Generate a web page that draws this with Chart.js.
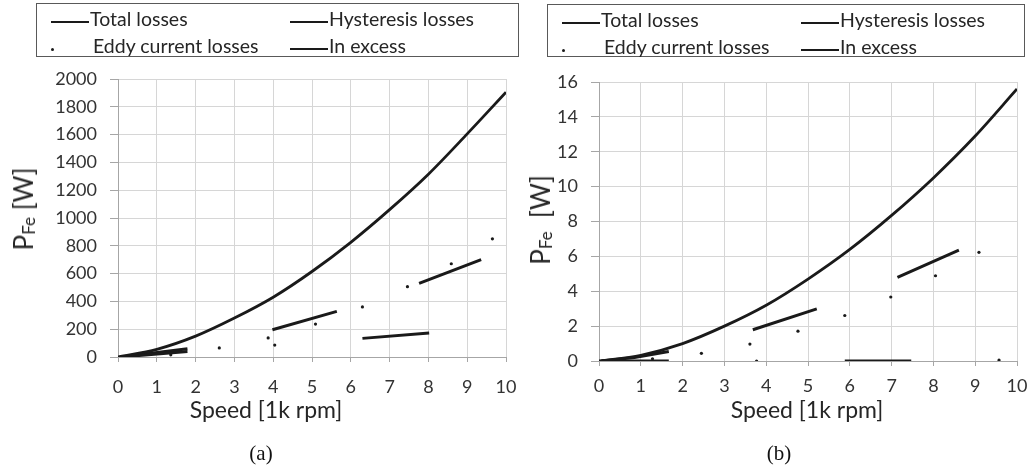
<!DOCTYPE html>
<html>
<head>
<meta charset="utf-8">
<script src="https://cdn.jsdelivr.net/npm/chart.js@4.4.1/dist/chart.umd.min.js"></script>
<style>
  body { margin: 0; background: #fff; width: 1030px; height: 468px; position: relative; overflow: hidden; font-family: Lato, sans-serif; color: #262626; }
  canvas { position: absolute; top: 0; }
  .legend { position: absolute; border: 1px solid #595959; box-sizing: border-box; }
  .item { position: absolute; font-size: 19.5px; line-height: 18px; white-space: nowrap; }
  .sample { position: absolute; height: 2px; width: 38px; background: #1a1a1a; }
  .dot { position: absolute; width: 3px; height: 3px; border-radius: 50%; background: #1a1a1a; }
  .ytitle { position: absolute; transform: translate(-50%, -50%) rotate(-90deg); font-size: 26px; white-space: nowrap; color: #262626; }
  .ytitle sub { font-size: 17px; vertical-align: baseline; position: relative; top: 2px; }
  .xtitle { position: absolute; transform: translateX(-50%); font-size: 23px; white-space: nowrap; color: #262626; }
  .caption { position: absolute; transform: translateX(-50%); font-family: "Liberation Serif", serif; font-size: 21px; color: #111; }
</style>
</head>
<body>
<canvas id="chartB" width="515" height="400" style="left:515px"></canvas>
<canvas id="chartA" width="530" height="400" style="left:0px"></canvas>
<script>
// legend labels
const seriesNames = ['Total losses', 'Hysteresis losses', 'Eddy current losses', 'In excess'];

// panel (a) - total losses curve read at each 1k rpm
const speedTotal = [0, 1, 2, 3, 4, 5, 6, 7, 8, 9, 10];
const totalA = [0, 55, 150, 280, 430, 615, 825, 1060, 1315, 1605, 1905];
// visible dashes (null = gap)
const hystSpeedA = [0.07, 1.79, 4.0, 6.30, 8.02];
const hystA = [0, 39, null, 134, 173];
const excessSpeedA = [0.07, 1.79, 2.9, 3.98, 5.64, 6.7, 7.76, 9.36];
const excessA = [0, 60, null, 196, 328, null, 530, 700];
// dotted eddy current losses
const eddySpeedA = [1.36, 2.61, 3.87, 4.04, 5.09, 6.30, 7.46, 8.59, 9.65];
const eddyA = [16, 65, 137, 86, 237, 360, 506, 671, 850];

// panel (b)
const totalB = [0, 0.33, 1.0, 2.0, 3.2, 4.7, 6.4, 8.35, 10.5, 12.9, 15.6];
const hystSpeedB = [0.06, 1.67, 3.8, 5.88, 7.47];
const hystB = [0, 0, null, 0, 0];
const excessSpeedB = [0.06, 0.85, 1.67, 2.7, 3.68, 5.21, 6.2, 7.14, 8.61];
const excessB = [0, 0.2, 0.55, null, 1.79, 2.99, null, 4.80, 6.36];
const eddySpeedB = [1.28, 2.45, 3.61, 3.77, 4.76, 5.88, 6.98, 8.05, 9.09, 9.57];
const eddyB = [0.13, 0.44, 0.97, 0, 1.71, 2.61, 3.67, 4.89, 6.23, 0.05];

const xTicks = [0, 1, 2, 3, 4, 5, 6, 7, 8, 9, 10];

function toPoints(xs, ys) {
    return xs.map((x, i) => ({ x: x, y: ys[i] }));
}

function makeChart(id, total, hystX, hyst, excessX, excess, eddyX, eddy, opt) {
    const ink = '#1a1a1a';
    return new Chart(document.getElementById(id), {
        type: 'line',
        data: {
            datasets: [
                { label: seriesNames[0], data: toPoints(speedTotal, total), borderColor: ink, borderWidth: 2.8, pointRadius: 0, cubicInterpolationMode: 'monotone' },
                { label: seriesNames[1], data: toPoints(hystX, hyst), borderColor: ink, borderWidth: 3, pointRadius: 0, spanGaps: false },
                { label: seriesNames[2], data: toPoints(eddyX, eddy), showLine: false, pointRadius: 1.6, pointBackgroundColor: ink, pointBorderWidth: 0 },
                { label: seriesNames[3], data: toPoints(excessX, excess), borderColor: ink, borderWidth: 3, pointRadius: 0, spanGaps: false }
            ]
        },
        options: {
            responsive: false,
            devicePixelRatio: 1,
            animation: false,
            layout: { padding: { top: opt.top, right: opt.right, left: 0, bottom: 0 } },
            plugins: { legend: { display: false }, tooltip: { enabled: false } },
            scales: {
                x: {
                    type: 'linear', min: 0, max: 10,
                    afterBuildTicks: s => { s.ticks = xTicks.map(v => ({ value: v })); },
                    afterFit: s => { s.height = opt.xHeight; s.paddingLeft = 0; s.paddingRight = 0; },
                    grid: { color: '#d6d6d6', tickColor: '#a6a6a6', tickLength: 5 },
                    border: { color: '#a6a6a6' },
                    ticks: { color: '#333', font: { family: 'Lato', size: 18 }, padding: opt.xPad, maxRotation: 0, callback: v => String(v) }
                },
                y: {
                    min: 0, max: opt.yMax,
                    afterFit: s => { s.width = opt.yWidth; s.paddingTop = 0; s.paddingBottom = 0; },
                    grid: { color: '#d6d6d6', tickColor: '#a6a6a6', tickLength: 8 },
                    border: { color: '#a6a6a6' },
                    ticks: { stepSize: opt.yStep, color: '#333', font: { family: 'Lato', size: 18 }, padding: 13, callback: v => String(v) }
                }
            }
        }
    });
}

makeChart('chartA', totalA, hystSpeedA, hystA, excessSpeedA, excessA, eddySpeedA, eddyA,
    { top: 79, right: 24, xHeight: 43, xPad: 14, yMax: 2000, yStep: 200, yWidth: 118 });
makeChart('chartB', totalB, hystSpeedB, hystB, excessSpeedB, excessB, eddySpeedB, eddyB,
    { top: 82, right: 13, xHeight: 39, xPad: 9, yMax: 16, yStep: 2, yWidth: 84 });

// html legends, axis titles and captions
function addLegend(left, top, width, height) {
    const box = document.createElement('div');
    box.className = 'legend';
    box.style.cssText = `left:${left}px;top:${top}px;width:${width}px;height:${height}px`;
    const cols = [14, 253];
    const rows = [18, 45];
    seriesNames.forEach((name, i) => {
        const col = cols[i % 2], row = rows[Math.floor(i / 2)];
        if (name === 'Eddy current losses') {
            const d = document.createElement('span');
            d.className = 'dot';
            d.style.cssText = `left:${col}px;top:${row - 1.5}px`;
            box.appendChild(d);
        } else {
            const s = document.createElement('span');
            s.className = 'sample';
            s.style.cssText = `left:${col}px;top:${row - 1}px`;
            box.appendChild(s);
        }
        const t = document.createElement('span');
        t.className = 'item';
        t.textContent = name;
        t.style.cssText = `left:${col + (name === 'Eddy current losses' ? 42 : 39)}px;top:${row - 12}px`;
        box.appendChild(t);
    });
    document.body.appendChild(box);
}
addLegend(36, 3, 483, 54);
addLegend(547, 4, 478, 53);

function addText(cls, html, x, y) {
    const d = document.createElement('div');
    d.className = cls;
    d.innerHTML = html;
    d.style.left = x + 'px';
    d.style.top = y + 'px';
    document.body.appendChild(d);
}
addText('ytitle', 'P<sub>Fe</sub> [W]', 23, 209);
addText('ytitle', 'P<sub>Fe</sub>&nbsp; [W]', 540, 220);
addText('xtitle', 'Speed [1k rpm]', 266, 395);
addText('xtitle', 'Speed [1k rpm]', 807, 395);
addText('caption', '(a)', 261, 441);
addText('caption', '(b)', 779, 441);
</script>
</body>
</html>
